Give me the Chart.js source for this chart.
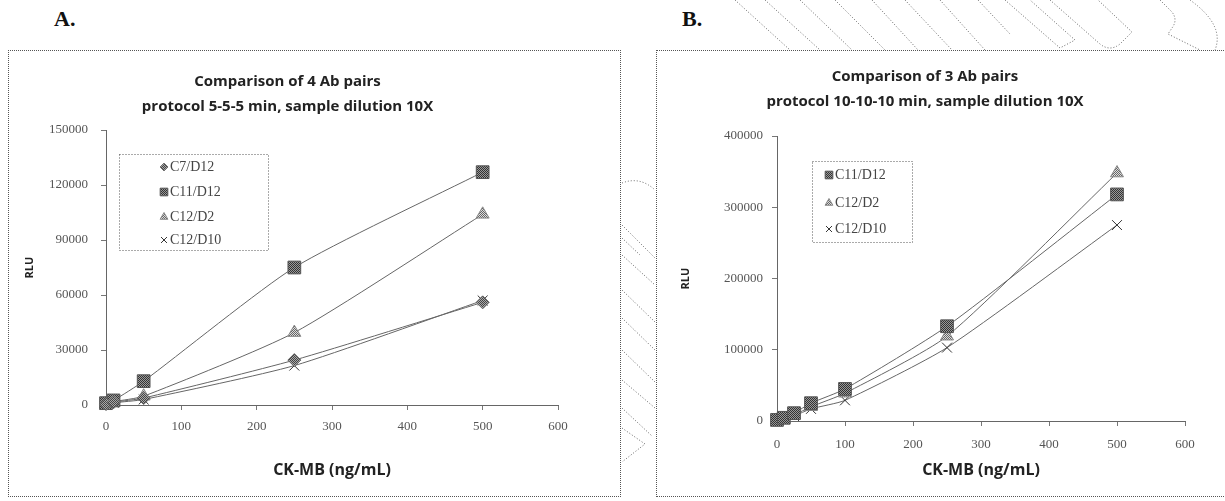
<!DOCTYPE html>
<html>
<head>
<meta charset="utf-8">
<script src="https://cdn.jsdelivr.net/npm/chart.js@4"></script>
<style>
  html, body { margin: 0; padding: 0; background: #fff; overflow: hidden; }
  body { width: 1225px; height: 501px; position: relative; }
  .panel { position: absolute; border: 1px dotted #555; background: #fff; }
  .tag { position: absolute; font: bold 22px "Liberation Serif", serif; color: #111; }
  canvas { display: block; }
  #deco { position: absolute; left: 0; top: 0; }
</style>
</head>
<body>
<svg id="deco" width="1225" height="501" fill="none" stroke="#666" stroke-width="1" stroke-dasharray="1 2">
  <path d="M735 0 L790 50 M765 0 L820 50 M800 0 L852 50 M835 0 L885 50 M872 0 L918 50 M905 0 L952 50 M940 0 L985 50 M978 0 L1010 34"/>
  <path d="M1005 0 L1060 48 L1075 40 L1030 0"/>
  <path d="M1050 0 L1100 44 Q1110 52 1120 44 L1132 32 L1098 0"/>
  <path d="M1160 0 L1172 12 Q1178 20 1172 28 L1168 34 L1200 50 M1190 0 Q1225 25 1215 50"/>
  <path d="M622 183 Q640 176 655 190"/>
  <path d="M622 225 L655 258 M622 238 L640 255 M622 255 L655 285 M622 290 L655 322 M622 318 L655 350 M622 350 L655 382 M622 380 L655 408 M622 408 L652 436"/>
  <path d="M622 428 L645 444 L622 462"/>
</svg>
<div class="tag" style="left:54px; top:6px;">A.</div>
<div class="tag" style="left:682px; top:6px;">B.</div>
<div class="panel" style="left:8px; top:50px; width:611px; height:445px;"><canvas id="chartA" width="611" height="445"></canvas></div>
<div class="panel" style="left:656px; top:50px; width:576px; height:445px;"><canvas id="chartB" width="576" height="445"></canvas></div>
<script>
// panel A: 4 antibody pairs, 5-5-5 min
const doseA = [0, 10, 50, 250, 500];
const c7d12A = [500, 1500, 3800, 24500, 56000];
const c11d12A = [1000, 2500, 13000, 75000, 127000];
const c12d2A = [600, 1800, 4800, 39500, 104000];
const c12d10A = [400, 1200, 3000, 21500, 57000];

// panel B: 3 antibody pairs, 10-10-10 min
const doseB = [0, 10, 25, 50, 100, 250, 500];
const c11d12B = [1500, 4500, 11000, 25000, 45000, 133000, 318000];
const c12d2B = [1000, 3500, 8500, 20000, 39000, 119000, 348000];
const c12d10B = [800, 2500, 7000, 17000, 29000, 103000, 275000];

const titleA = ["Comparison of 4 Ab pairs", "protocol 5-5-5 min, sample dilution 10X"];
const titleB = ["Comparison of 3 Ab pairs", "protocol 10-10-10 min, sample dilution 10X"];
const xTitle = "CK-MB (ng/mL)";
const yTitle = "RLU";

function checker(dark, light) {
  const c = document.createElement("canvas");
  c.width = 2; c.height = 2;
  const g = c.getContext("2d");
  g.fillStyle = light; g.fillRect(0, 0, 2, 2);
  g.fillStyle = dark; g.fillRect(0, 0, 1, 1); g.fillRect(1, 1, 1, 1);
  return g.createPattern(c, "repeat");
}

const styles = {
  "C7/D12": { pointStyle: "rectRot", pointRadius: 6.5, bg: checker("#444", "#aaa"), border: "#666" },
  "C11/D12": { pointStyle: "rect", pointRadius: 9, bg: checker("#333", "#999"), border: "#555" },
  "C12/D2": { pointStyle: "triangle", pointRadius: 7.5, bg: checker("#666", "#ddd"), border: "#888" },
  "C12/D10": { pointStyle: "crossRot", pointRadius: 7, bg: "#333", border: "#333" },
};

function series(label, xs, ys) {
  const s = styles[label];
  return {
    label: label,
    data: xs.map((x, i) => ({ x: x, y: ys[i] })),
    showLine: true,
    tension: 0.2,
    borderColor: "#666",
    borderWidth: 1,
    pointStyle: s.pointStyle,
    pointRadius: s.pointRadius,
    pointBackgroundColor: s.bg,
    pointBorderColor: s.border,
    pointBorderWidth: 1,
    clip: false,
  };
}

const boxLegend = {
  id: "boxLegend",
  afterDraw(chart, args, opts) {
    const ctx = chart.ctx;
    ctx.save();
    ctx.setLineDash([1, 2]);
    ctx.strokeStyle = "#555";
    ctx.lineWidth = 1;
    ctx.strokeRect(opts.x + 0.5, opts.y + 0.5, opts.w, opts.h);
    ctx.setLineDash([]);
    ctx.font = '14px "Liberation Serif"';
    ctx.fillStyle = "#444";
    ctx.textBaseline = "middle";
    chart.data.datasets.forEach((ds, i) => {
      const y = opts.rows[i];
      ctx.save();
      ctx.fillStyle = ds.pointBackgroundColor;
      ctx.strokeStyle = ds.pointBorderColor;
      ctx.lineWidth = 1;
      Chart.helpers.drawPoint(ctx, { pointStyle: ds.pointStyle, radius: ds.pointRadius * 0.6, borderWidth: 1, rotation: 0 }, opts.mx, y);
      ctx.restore();
      ctx.fillText(ds.label, opts.mx + 6, y);
    });
    ctx.restore();
  },
};

function makeChart(id, datasets, cfg) {
  return new Chart(document.getElementById(id), {
    type: "scatter",
    data: { datasets: datasets },
    plugins: [boxLegend],
    options: {
      responsive: false,
      animation: false,
      devicePixelRatio: 1,
      layout: { padding: { left: 8, right: cfg.padRight, top: 0, bottom: 0 } },
      plugins: {
        legend: { display: false },
        tooltip: { enabled: false },
        title: {
          display: true,
          text: cfg.title,
          color: "#222",
          font: { family: "Open Sans", weight: "bold", size: 15, lineHeight: "25px" },
          padding: { top: cfg.titleTop, bottom: cfg.titleBottom },
        },
        boxLegend: cfg.legend,
      },
      scales: {
        x: {
          type: "linear",
          min: 0,
          max: 600,
          afterFit: (s) => { s.height = cfg.xHeight; },
          ticks: { stepSize: 100, padding: cfg.xTickPad, color: "#555", font: { family: "Liberation Serif", size: 13 } },
          grid: { drawOnChartArea: false, drawTicks: true, tickLength: 5, color: "#777" },
          border: { display: true, color: "#666", width: 1, dash: [1, 2] },
          title: { display: true, text: xTitle, color: "#222", font: { family: "Open Sans", weight: "bold", size: 16 }, padding: { top: 4, bottom: 16 } },
        },
        y: {
          type: "linear",
          min: 0,
          max: cfg.yMax,
          afterFit: (s) => { s.width = cfg.yWidth; },
          ticks: { stepSize: cfg.yStep, padding: cfg.yTickPad, color: "#555", font: { family: "Liberation Serif", size: 13 }, callback: (v) => String(v) },
          grid: { drawOnChartArea: false, drawTicks: true, tickLength: 5, color: "#777" },
          border: { display: true, color: "#666", width: 1, dash: [1, 2] },
          title: { display: true, text: yTitle, color: "#222", font: { family: "Open Sans", weight: "bold", size: 11 }, padding: { top: cfg.yTitlePad, bottom: 0 } },
        },
      },
    },
  });
}

makeChart("chartA", [
  series("C7/D12", doseA, c7d12A),
  series("C11/D12", doseA, c11d12A),
  series("C12/D2", doseA, c12d2A),
  series("C12/D10", doseA, c12d10A),
], {
  title: titleA, titleTop: 18, titleBottom: 11, padRight: 62, yWidth: 89, xHeight: 91, xTickPad: 9,
  yMax: 150000, yStep: 30000, yTickPad: 13, yTitlePad: 6,
  legend: { x: 110, y: 103, w: 149, h: 96, mx: 155, rows: [116, 141, 166, 189] },
});

makeChart("chartB", [
  series("C11/D12", doseB, c11d12B),
  series("C12/D2", doseB, c12d2B),
  series("C12/D10", doseB, c12d10B),
], {
  title: titleB, titleTop: 13, titleBottom: 22, padRight: 48, yWidth: 112, xHeight: 75, xTickPad: 11,
  yMax: 400000, yStep: 100000, yTickPad: 9, yTitlePad: 14,
  legend: { x: 155, y: 110, w: 100, h: 81, mx: 172, rows: [124, 152, 178] },
});
</script>
</body>
</html>
